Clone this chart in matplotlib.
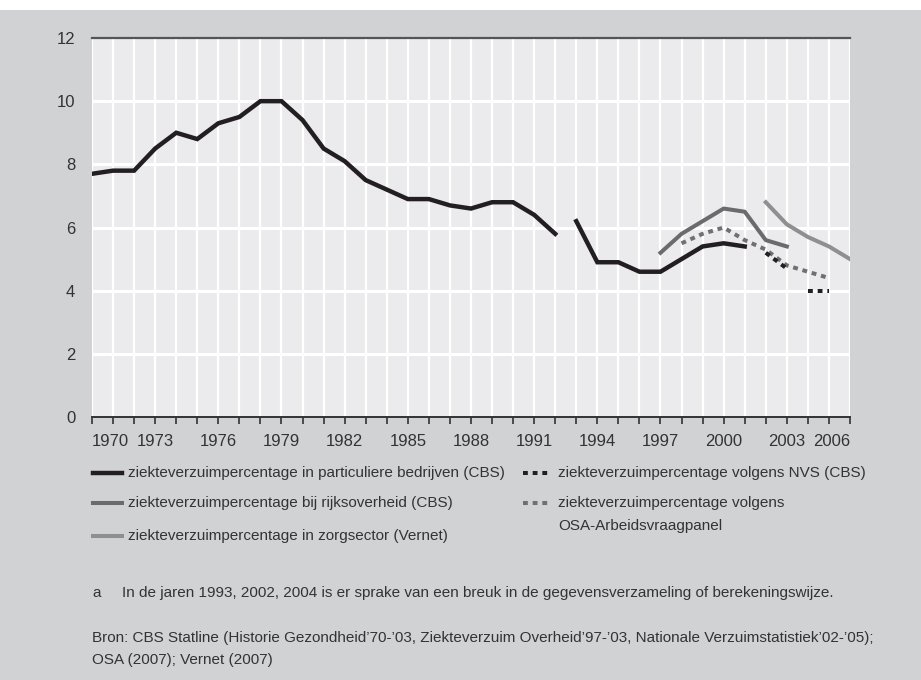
import matplotlib
matplotlib.use('Agg')
import matplotlib.pyplot as plt
from matplotlib.lines import Line2D
from matplotlib.patches import Rectangle

plt.rcParams['font.family'] = ['Liberation Sans', 'DejaVu Sans']

# ziekteverzuimpercentage in particuliere bedrijven (CBS), breuk in 1993
part_years_a = [1970, 1971, 1972, 1973, 1974, 1975, 1976, 1977, 1978, 1979, 1980,
                1981, 1982, 1983, 1984, 1985, 1986, 1987, 1988, 1989, 1990, 1991, 1992]
part_vals_a = [7.7, 7.8, 7.8, 8.5, 9.0, 8.8, 9.3, 9.5, 10.0, 10.0, 9.4,
               8.5, 8.1, 7.5, 7.2, 6.9, 6.9, 6.7, 6.6, 6.8, 6.8, 6.4, 5.8]
part_years_b = [1993, 1994, 1995, 1996, 1997, 1998, 1999, 2000, 2001]
part_vals_b = [6.2, 4.9, 4.9, 4.6, 4.6, 5.0, 5.4, 5.5, 5.4]

# rijksoverheid (CBS)
rijk_years = [1997, 1998, 1999, 2000, 2001, 2002, 2003]
rijk_vals = [5.2, 5.8, 6.2, 6.6, 6.5, 5.6, 5.4]

# zorgsector (Vernet)
zorg_years = [2002, 2003, 2004, 2005, 2006]
zorg_vals = [6.8, 6.1, 5.7, 5.4, 5.0]

# NVS (CBS), breuk in 2004
nvs_years_a = [2002, 2003]
nvs_vals_a = [5.2, 4.7]
nvs_years_b = [2004, 2005]
nvs_vals_b = [4.0, 4.0]

# OSA-Arbeidsvraagpanel
osa_years = [1998, 1999, 2000, 2001, 2002, 2003, 2004, 2005]
osa_vals = [5.5, 5.8, 6.0, 5.6, 5.3, 4.8, 4.6, 4.4]

xtick_labels = ['1970', '1973', '1976', '1979', '1982', '1985', '1988',
                '1991', '1994', '1997', '2000', '2003', '2006']
ytick_vals = [0, 2, 4, 6, 8, 10, 12]

legend_labels = [
    'ziekteverzuimpercentage in particuliere bedrijven (CBS)',
    'ziekteverzuimpercentage bij rijksoverheid (CBS)',
    'ziekteverzuimpercentage in zorgsector (Vernet)',
    'ziekteverzuimpercentage volgens NVS (CBS)',
    'ziekteverzuimpercentage volgens\nOSA-Arbeidsvraagpanel',
]
note_a = 'In de jaren 1993, 2002, 2004 is er sprake van een breuk in de gegevensverzameling of berekeningswijze.'
note_bron = ('Bron: CBS Statline (Historie Gezondheid\u201970-\u201903, Ziekteverzuim Overheid\u201997-\u201903, '
             'Nationale Verzuimstatistiek\u201902-\u201905);\nOSA (2007); Vernet (2007)')

BG = '#d1d2d4'
PLOT_BG = '#ebebed'
TXT = '#333333'
C_PART = '#231f20'
C_RIJK = '#6a6b6d'
C_ZORG = '#8e8f91'
C_OSA = '#6f7072'
FS_SMALL = 11

W, H = 921, 680
fig = plt.figure(figsize=(W / 100, H / 100), dpi=100, facecolor=BG)
# white strip at the very top
fig.patches.append(Rectangle((0, 1 - 10 / H), 1, 10 / H, transform=fig.transFigure,
                             facecolor='white', edgecolor='none', zorder=0))

ax = fig.add_axes([92 / W, 1 - 417 / H, (850 - 92) / W, (417 - 38) / H])
ax.set_facecolor(PLOT_BG)

ax.plot(part_years_a, part_vals_a, color=C_PART, lw=3.2, solid_joinstyle='miter', zorder=5)
ax.plot(part_years_b, part_vals_b, color=C_PART, lw=3.2, solid_joinstyle='miter', zorder=5)
ax.plot(rijk_years, rijk_vals, color=C_RIJK, lw=2.9, zorder=4)
ax.plot(zorg_years, zorg_vals, color=C_ZORG, lw=2.9, zorder=4)
ax.plot(osa_years, osa_vals, color=C_OSA, lw=2.9, ls=(0, (1.2, 1.2)), dash_capstyle='butt', zorder=4)
ax.plot(nvs_years_a, nvs_vals_a, color=C_PART, lw=2.9, ls=(0, (1.2, 1.2)), dash_capstyle='butt', zorder=6)
ax.plot(nvs_years_b, nvs_vals_b, color=C_PART, lw=2.9, ls=(0, (1.2, 1.2)), dash_capstyle='butt', zorder=6)

ax.set_xlim(1970, 2006)
ax.set_ylim(0, 12)

# grid
for yr in range(1970, 2007):
    ax.axvline(yr, color='white', lw=1.6, zorder=1)
for v in ytick_vals[1:-1]:
    ax.axhline(v, color='white', lw=2.2, zorder=1)

for s in ['left', 'right']:
    ax.spines[s].set_visible(False)
ax.spines['top'].set_color('#555555')
ax.spines['top'].set_linewidth(1.6)
ax.spines['bottom'].set_color('#333333')
ax.spines['bottom'].set_linewidth(1.4)

ax.set_xticks(range(1970, 2007), minor=True)
ax.set_xticks([int(t) for t in xtick_labels])
ax.set_xticklabels(xtick_labels)
ax.tick_params(axis='x', which='both', direction='out', length=5, width=1.2,
               color='#333333', labelsize=12, labelcolor=TXT, pad=7)
tl = ax.get_xticklabels()
tl[0].set_horizontalalignment('left')
tl[-1].set_horizontalalignment('right')

ax.set_yticks(ytick_vals)
ax.set_yticklabels([str(v) for v in ytick_vals])
ax.tick_params(axis='y', length=0, labelsize=12, labelcolor=TXT, pad=12)

# legend, drawn by hand
leg_styles = [
    dict(color=C_PART, lw=3.2),
    dict(color=C_RIJK, lw=2.9),
    dict(color=C_ZORG, lw=2.9),
    dict(color=C_PART, lw=2.9, ls=(0, (1.2, 1.2)), dash_capstyle='butt'),
    dict(color=C_OSA, lw=2.9, ls=(0, (1.2, 1.2)), dash_capstyle='butt'),
]
leg_pos = [(93, 473), (93, 503), (93, 536), (523, 473), (523, 503)]
for lab, sty, (px, py) in zip(legend_labels, leg_styles, leg_pos):
    fig.add_artist(Line2D([px / W, (px + 29) / W], [1 - py / H, 1 - py / H],
                          transform=fig.transFigure, **sty))
    lines = lab.split('\n')
    for i, line in enumerate(lines):
        fig.text((px + 35) / W, 1 - (py + i * 23) / H, line,
                 fontsize=FS_SMALL, color=TXT, va='center', ha='left')

fig.text(92 / W, 1 - 593 / H, 'a', fontsize=FS_SMALL, color=TXT, va='center')
fig.text(122 / W, 1 - 593 / H, note_a, fontsize=FS_SMALL, color=TXT, va='center')
bron_lines = note_bron.split('\n')
fig.text(92 / W, 1 - 638 / H, bron_lines[0], fontsize=FS_SMALL, color=TXT, va='center')
fig.text(92 / W, 1 - 660 / H, bron_lines[1], fontsize=FS_SMALL, color=TXT, va='center')

fig.savefig('out.png', dpi=100, facecolor=BG)
